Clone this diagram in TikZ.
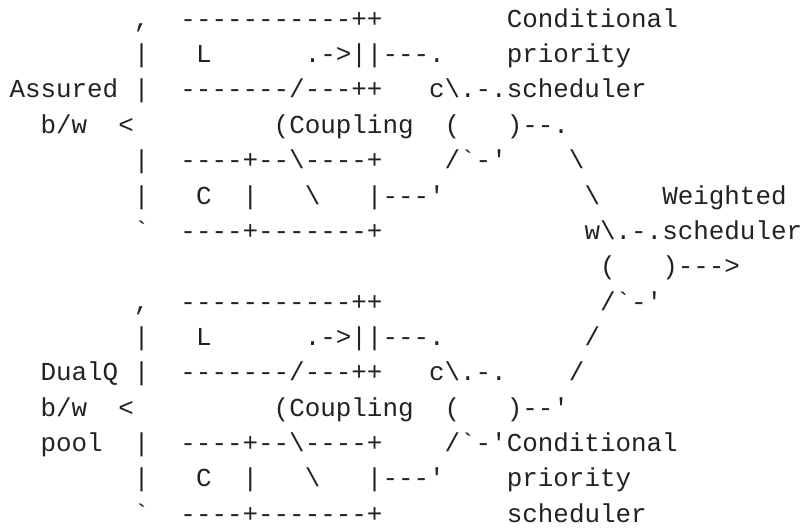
\documentclass[tikz,border=0pt]{standalone}
\usepackage{fontspec}
\setmonofont{Liberation Mono}
\definecolor{ink}{RGB}{34,34,34}
\newlength\cw
\settowidth\cw{\fontsize{25.9pt}{35pt}\selectfont\ttfamily x}
\newcommand\blnk[1]{\hspace*{#1\cw}}
\newcommand\bs{\textbackslash}
\tikzset{asc/.style={anchor=base west, inner sep=0pt, outer sep=0pt, text=ink,
  font=\fontsize{25.9pt}{35pt}\selectfont\ttfamily}}
\begin{document}
\begin{tikzpicture}
\fill[white] (0,0) rectangle (804pt,531pt);
\useasboundingbox (0,0) rectangle (804pt,531pt);
\node[asc] (row0)  at (9.5pt,503.7pt)  {\blnk{8},\blnk{2}-----------++\blnk{8}Conditional};
\node[asc] (row1)  at (9.5pt,468.35pt) {\blnk{8}|\blnk{3}L\blnk{6}.->||---.\blnk{4}priority};
\node[asc] (row2)  at (9.5pt,433.0pt)  {Assured\blnk{1}|\blnk{2}-------/---++\blnk{3}c\bs.-.scheduler};
\node[asc] (row3)  at (9.5pt,397.65pt) {\blnk{2}b/w\blnk{2}<\blnk{9}(Coupling\blnk{2}(\blnk{3})--.};
\node[asc] (row4)  at (9.5pt,362.3pt)  {\blnk{8}|\blnk{2}----+--\bs----+\blnk{4}/`-'\blnk{4}\bs};
\node[asc] (row5)  at (9.5pt,326.95pt) {\blnk{8}|\blnk{3}C\blnk{2}|\blnk{3}\bs\blnk{3}|---'\blnk{9}\bs\blnk{4}Weighted};
\node[asc] (row6)  at (9.5pt,291.6pt)  {\blnk{8}`\blnk{2}----+-------+\blnk{13}w\bs.-.scheduler};
\node[asc] (row7)  at (9.5pt,256.25pt) {\blnk{38}(\blnk{3})--->};
\node[asc] (row8)  at (9.5pt,220.9pt)  {\blnk{8},\blnk{2}-----------++\blnk{14}/`-'};
\node[asc] (row9)  at (9.5pt,185.55pt) {\blnk{8}|\blnk{3}L\blnk{6}.->||---.\blnk{9}/};
\node[asc] (row10) at (9.5pt,150.2pt)  {\blnk{2}DualQ\blnk{1}|\blnk{2}-------/---++\blnk{3}c\bs.-.\blnk{4}/};
\node[asc] (row11) at (9.5pt,114.85pt) {\blnk{2}b/w\blnk{2}<\blnk{9}(Coupling\blnk{2}(\blnk{3})--'};
\node[asc] (row12) at (9.5pt,79.5pt)   {\blnk{2}pool\blnk{2}|\blnk{2}----+--\bs----+\blnk{4}/`-'Conditional};
\node[asc] (row13) at (9.5pt,44.15pt)  {\blnk{8}|\blnk{3}C\blnk{2}|\blnk{3}\bs\blnk{3}|---'\blnk{4}priority};
\node[asc] (row14) at (9.5pt,8.8pt)    {\blnk{8}`\blnk{2}----+-------+\blnk{8}scheduler};
\end{tikzpicture}
\end{document}
